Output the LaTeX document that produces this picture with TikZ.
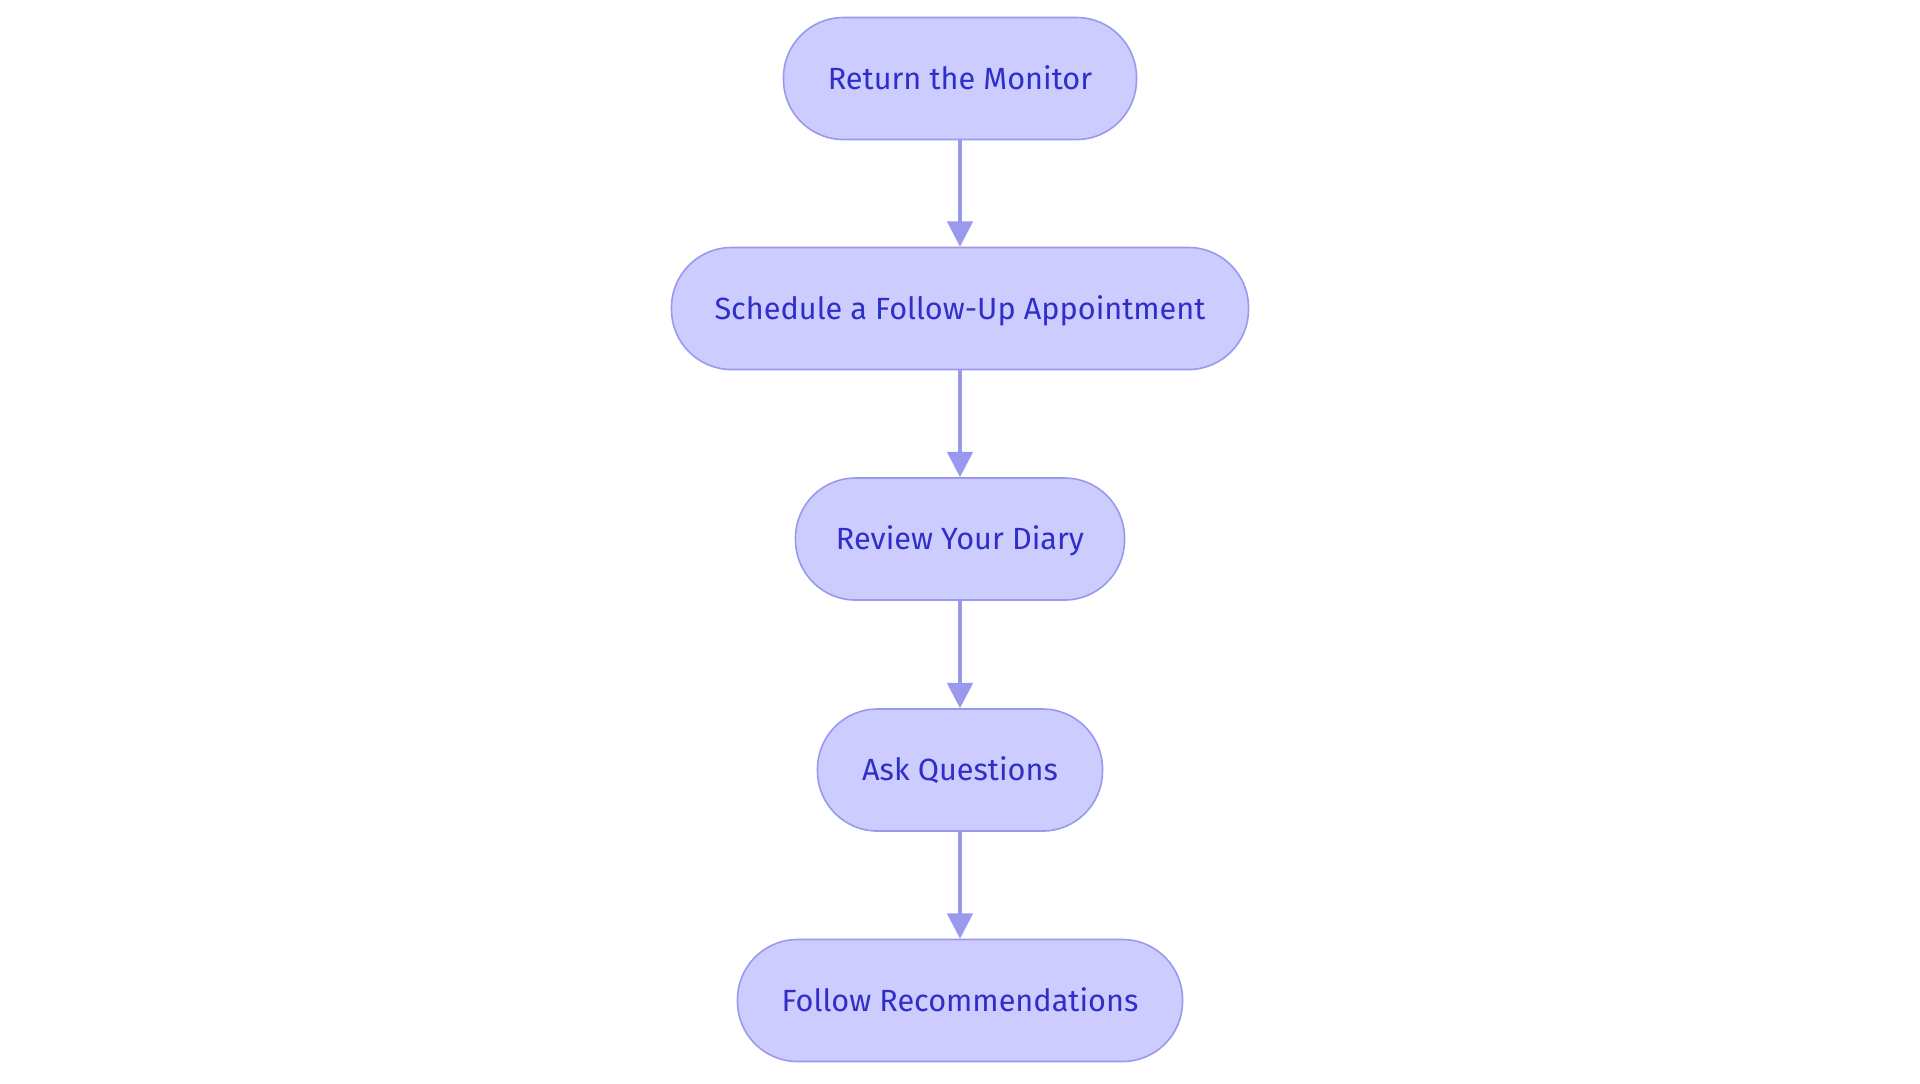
\documentclass[tikz,border=0pt]{standalone}
\usepackage{fontspec}
\setmainfont{Fira Sans}
\usetikzlibrary{arrows.meta}
\definecolor{nfill}{HTML}{CCCCFF}
\definecolor{nline}{HTML}{9999EE}
\definecolor{ntext}{HTML}{2F2FC8}
\begin{document}
\begin{tikzpicture}[x=0.75pt,y=-0.75pt,
  stepbox/.style={draw=nline,fill=nfill,line width=1.2pt,rounded corners=45pt,minimum height=91.5pt,text=ntext,font=\fontsize{23}{27}\selectfont,inner sep=0pt,text depth=2pt},
  conn/.style={draw=nline,line width=2.8pt,-{Triangle[length=19pt,width=19pt]}}]
\useasboundingbox[fill=white] (0,0) rectangle (1920,1083);
\node[stepbox,minimum width=264.75pt] (a) at (960,78.5) {Return the Monitor};
\node[stepbox,minimum width=432.75pt] (b) at (960,308.5) {Schedule a Follow-Up Appointment};
\node[stepbox,minimum width=246.75pt] (c) at (960,539) {Review Your Diary};
\node[stepbox,minimum width=213.75pt] (d) at (960,770) {Ask Questions};
\node[stepbox,minimum width=333.75pt] (e) at (960,1000.5) {Follow Recommendations};
\draw[conn] (a) -- (b);
\draw[conn] (b) -- (c);
\draw[conn] (c) -- (d);
\draw[conn] (d) -- (e);
\end{tikzpicture}
\end{document}
